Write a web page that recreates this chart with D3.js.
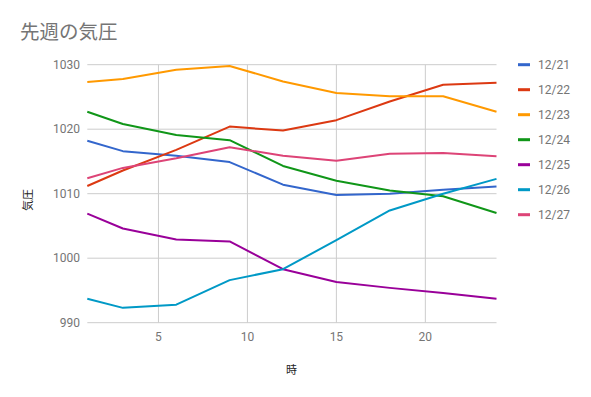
<!DOCTYPE html>
<html>
<head>
<meta charset="utf-8">
<script src="https://cdn.jsdelivr.net/npm/d3@7"></script>
<style>
  body { margin: 0; background: #fff; }
  text { font-family: Roboto, "Noto Sans CJK JP", sans-serif; }
</style>
</head>
<body>
<div id="chart"></div>
<script>
const hours = [1, 3, 6, 9, 12, 15, 18, 21, 24];
const days = ["12/21", "12/22", "12/23", "12/24", "12/25", "12/26", "12/27"];
const colors = ["#3366cc", "#dc3912", "#ff9900", "#109618", "#990099", "#0099c6", "#dd4477"];
const p1221 = [1018.2, 1016.6, 1015.9, 1014.9, 1011.4, 1009.8, 1010.0, 1010.6, 1011.1];
const p1222 = [1011.2, 1013.6, 1016.8, 1020.4, 1019.8, 1021.4, 1024.3, 1026.9, 1027.2];
const p1223 = [1027.3, 1027.8, 1029.2, 1029.8, 1027.4, 1025.6, 1025.1, 1025.1, 1022.7];
const p1224 = [1022.7, 1020.8, 1019.1, 1018.3, 1014.3, 1012.0, 1010.5, 1009.6, 1007.0];
const p1225 = [1006.9, 1004.6, 1002.9, 1002.6, 998.3, 996.3, 995.4, 994.6, 993.7];
const p1226 = [993.7, 992.3, 992.8, 996.6, 998.3, 1002.8, 1007.4, 1010.0, 1012.3];
const p1227 = [1012.4, 1014.0, 1015.5, 1017.2, 1015.9, 1015.1, 1016.2, 1016.3, 1015.8];
const xTicks = [5, 10, 15, 20];
const yTicks = [990, 1000, 1010, 1020, 1030];

const series = [p1221, p1222, p1223, p1224, p1225, p1226, p1227];

const W = 591, H = 397;
const svg = d3.select("#chart").append("svg").attr("width", W).attr("height", H);

const x = d3.scaleLinear().domain([1, 24]).range([87.3, 496.5]);
const y = d3.scaleLinear().domain([990, 1030]).range([322.7, 64.7]);

// title
svg.append("text").attr("x", 20).attr("y", 39)
  .attr("font-size", 19.5).attr("fill", "#757575")
  .text("先週の気圧");

// grid
svg.append("g").selectAll("line").data(yTicks).join("line")
  .attr("x1", x.range()[0]).attr("x2", x.range()[1])
  .attr("y1", d => y(d)).attr("y2", d => y(d))
  .attr("stroke", "#cccccc").attr("stroke-width", 1);
svg.append("g").selectAll("line").data(xTicks).join("line")
  .attr("x1", d => x(d)).attr("x2", d => x(d))
  .attr("y1", y.range()[1]).attr("y2", y.range()[0])
  .attr("stroke", "#cccccc").attr("stroke-width", 1);

// tick labels
svg.append("g").selectAll("text").data(yTicks).join("text")
  .attr("x", 80).attr("y", d => y(d)).attr("dy", "0.35em")
  .attr("text-anchor", "end").attr("font-size", 12).attr("fill", "#757575")
  .text(d => d);
svg.append("g").selectAll("text").data(xTicks).join("text")
  .attr("x", d => x(d)).attr("y", 341)
  .attr("text-anchor", "middle").attr("font-size", 12).attr("fill", "#757575")
  .text(d => d);

// axis titles
svg.append("text").attr("x", 291.5).attr("y", 374)
  .attr("text-anchor", "middle").attr("font-size", 11).attr("fill", "#222")
  .text("時");
svg.append("text").attr("transform", "translate(32,200) rotate(-90)")
  .attr("text-anchor", "middle").attr("font-size", 11).attr("fill", "#222")
  .text("気圧");

// lines
const line = d3.line().x((d, i) => x(hours[i])).y(d => y(d));
svg.append("g").selectAll("path").data(series).join("path")
  .attr("d", d => line(d))
  .attr("fill", "none")
  .attr("stroke", (d, i) => colors[i])
  .attr("stroke-width", 2)
  .attr("stroke-linejoin", "round");

// legend
const lg = svg.append("g").selectAll("g").data(days).join("g")
  .attr("transform", (d, i) => `translate(518,${64.7 + i * 25})`);
lg.append("rect").attr("x", 0).attr("y", -1.5).attr("width", 12).attr("height", 3)
  .attr("fill", (d, i) => colors[i]);
lg.append("text").attr("x", 20).attr("dy", "0.35em")
  .attr("font-size", 12).attr("fill", "#757575")
  .text(d => d);
</script>
</body>
</html>
